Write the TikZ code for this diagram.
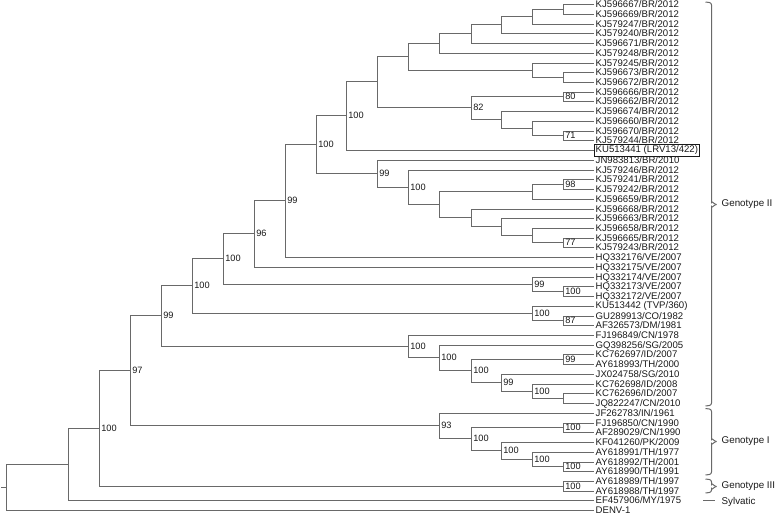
\documentclass[tikz,border=0pt]{standalone}
\usepackage{fontspec}
\setmainfont{Liberation Sans}
\usetikzlibrary{calc}
\definecolor{brc}{RGB}{105,105,105}
\definecolor{txc}{RGB}{25,25,25}
\tikzset{
  br/.style={draw=brc,line width=1pt},
  leaf/.style={anchor=west,inner sep=1.5pt,text=txc,font=\fontsize{9.6}{10}\selectfont},
  bs/.style={anchor=west,inner sep=1.6pt,text=txc,font=\fontsize{9.2}{10}\selectfont},
  grp/.style={anchor=west,inner sep=0pt,text=txc,font=\fontsize{9.8}{11}\selectfont},
  brace/.style={draw=brc,line width=1pt}
}
% internal node: name, x (integer), child1, child2
\newcommand\tn[4]{%
  \path let \p1=(#3), \p2=(#4) in
    coordinate (#1) at (#2.5pt,{floor((\y1+\y2)/2)*1pt+0.5pt});
  \draw[br] (#3) -| (#1) |- (#4);}
% internal node with support label
\newcommand\tb[5]{\tn{#1}{#2}{#3}{#4}\node[bs] (lab#1) at (#1) {#5};}
\begin{document}
\begin{tikzpicture}[x=1pt,y=-1pt]
\useasboundingbox (0,0) rectangle (778,516);
\foreach \nm [count=\i] in {KJ596667/BR/2012,KJ596669/BR/2012,KJ579247/BR/2012,KJ579240/BR/2012,KJ596671/BR/2012,KJ579248/BR/2012,KJ579245/BR/2012,KJ596673/BR/2012,KJ596672/BR/2012,KJ596666/BR/2012,KJ596662/BR/2012,KJ596674/BR/2012,KJ596660/BR/2012,KJ596670/BR/2012,KJ579244/BR/2012,KU513441 (LRV13/422),JN983813/BR/2010,KJ579246/BR/2012,KJ579241/BR/2012,KJ579242/BR/2012,KJ596659/BR/2012,KJ596668/BR/2012,KJ596663/BR/2012,KJ596658/BR/2012,KJ596665/BR/2012,KJ579243/BR/2012,HQ332176/VE/2007,HQ332175/VE/2007,HQ332174/VE/2007,HQ332173/VE/2007,HQ332172/VE/2007,KU513442 (TVP/360),GU289913/CO/1982,AF326573/DM/1981,FJ196849/CN/1978,GQ398256/SG/2005,KC762697/ID/2007,AY618993/TH/2000,JX024758/SG/2010,KC762698/ID/2008,KC762696/ID/2007,JQ822247/CN/2010,JF262783/IN/1961,FJ196850/CN/1990,AF289029/CN/1990,KF041260/PK/2009,AY618991/TH/1977,AY618992/TH/2001,AY618990/TH/1991,AY618989/TH/1997,AY618988/TH/1997,EF457906/MY/1975,DENV-1}
{
  \coordinate (l\i) at (594,{floor(4.7+(\i-1)*9.73)+0.5});
  \node[leaf] (t\i) at (l\i) {\nm};
}
\draw[draw=txc,line width=0.8pt] (t16.south west) rectangle (t16.north east);
% Genotype II clade
\tn{n1_2}{563}{l1}{l2}
\tn{n1_3}{532}{n1_2}{l3}
\tn{n1_4}{501}{n1_3}{l4}
\tn{n1_5}{471}{n1_4}{l5}
\tn{n1_6}{439}{n1_5}{l6}
\tn{n8_9}{563}{l8}{l9}
\tn{n7_9}{532}{l7}{n8_9}
\tn{n1_9}{408}{n1_6}{n7_9}
\tb{n10_11}{563}{l10}{l11}{80}
\tb{n14_15}{563}{l14}{l15}{71}
\tn{n13_15}{532}{l13}{n14_15}
\tn{n12_15}{501}{l12}{n13_15}
\tb{n10_15}{471}{n10_11}{n12_15}{82}
\tn{n1_15}{377}{n1_9}{n10_15}
\tb{n1_16}{346}{n1_15}{l16}{100}
\tb{n19_20}{563}{l19}{l20}{98}
\tn{n19_21}{532}{n19_20}{l21}
\tb{n25_26}{563}{l25}{l26}{77}
\tn{n24_26}{532}{l24}{n25_26}
\tn{n23_26}{501}{l23}{n24_26}
\tn{n22_26}{471}{l22}{n23_26}
\tn{n19_26}{439}{n19_21}{n22_26}
\tb{n18_26}{408}{l18}{n19_26}{100}
\tb{n17_26}{377}{l17}{n18_26}{99}
\tb{n1_26}{316}{n1_16}{n17_26}{100}
\tb{n1_27}{285}{n1_26}{l27}{99}
\tb{n1_28}{254}{n1_27}{l28}{96}
\tb{n30_31}{563}{l30}{l31}{100}
\tb{n29_31}{532}{l29}{n30_31}{99}
\tb{n1_31}{223}{n1_28}{n29_31}{100}
\tb{n33_34}{563}{l33}{l34}{87}
\tb{n32_34}{532}{l32}{n33_34}{100}
\tb{n1_34}{192}{n1_31}{n32_34}{100}
\tb{n37_38}{563}{l37}{l38}{99}
\tn{n41_42}{563}{l41}{l42}
\tb{n40_42}{532}{l40}{n41_42}{100}
\tb{n39_42}{501}{l39}{n40_42}{99}
\tb{n37_42}{471}{n37_38}{n39_42}{100}
\tb{n36_42}{439}{l36}{n37_42}{100}
\tb{n35_42}{408}{l35}{n36_42}{100}
\tb{n1_42}{161}{n1_34}{n35_42}{99}
% Genotype I
\tb{n44_45}{563}{l44}{l45}{100}
\tb{n48_49}{563}{l48}{l49}{100}
\tb{n47_49}{532}{l47}{n48_49}{100}
\tb{n46_49}{501}{l46}{n47_49}{100}
\tb{n44_49}{471}{n44_45}{n46_49}{100}
\tb{n43_49}{439}{l43}{n44_49}{93}
\tb{n1_49}{130}{n1_42}{n43_49}{97}
% Genotype III
\tb{n50_51}{563}{l50}{l51}{100}
\tb{n1_51}{99}{n1_49}{n50_51}{100}
\tn{n1_52}{68}{n1_51}{l52}
\tn{root}{6}{n1_52}{l53}
\coordinate (stub) at (1,0 |- root);
\draw[br] (stub) -- (root);
% group braces
\coordinate (g2t) at (711.5,2);
\coordinate (g2b) at (711.5,406);
\coordinate (g2m) at (711.5,204.5);
\coordinate (g1t) at (711.5,408.5);
\coordinate (g1b) at (711.5,475);
\coordinate (g1m) at (711.5,441.5);
\coordinate (g3t) at (711.5,479);
\coordinate (g3b) at (711.5,493);
\coordinate (g3m) at (711.5,486.5);
\foreach \g in {g2,g1,g3}{
  \draw[brace] ($(\g t)+(-6,0)$) to[out=0,in=90] ($(\g t)+(0,3)$) -- ($(\g m)+(0,-2)$) to[out=90,in=180] ($(\g m)+(5,0)$);
  \draw[brace] ($(\g m)+(5,0)$) to[out=180,in=-90] ($(\g m)+(0,2)$) -- ($(\g b)+(0,-3)$) to[out=-90,in=0] ($(\g b)+(-6,0)$);
}
\node[grp] (lg2) at ($(g2m)+(10,0)$) {Genotype II};
\node[grp] (lg1) at ($(g1m)+(10,0)$) {Genotype I};
\node[grp] (lg3) at ($(g3m)+(10,0)$) {Genotype III};
\coordinate (sya) at (703,0 |- l52);
\coordinate (syb) at (715,0 |- l52);
\draw[brace] (sya) -- (syb);
\node[grp] (lsy) at ($(g3m)+(10,15)$) {Sylvatic};
\end{tikzpicture}
\end{document}
